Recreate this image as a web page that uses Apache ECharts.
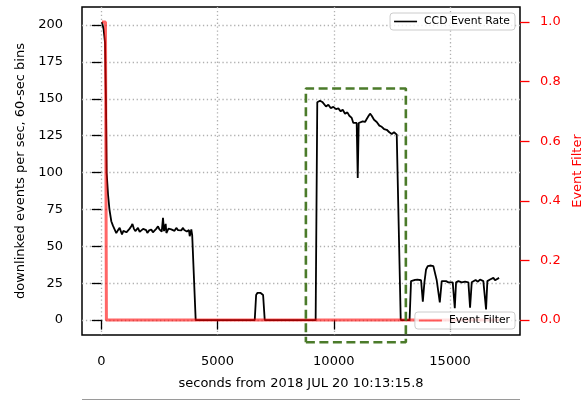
<!DOCTYPE html>
<html>
<head>
<meta charset="utf-8">
<script src="https://cdn.jsdelivr.net/npm/echarts@6/dist/echarts.min.js"></script>
<style>
  html, body { margin: 0; padding: 0; background: #fff; }
  #chart { width: 586px; height: 400px; }
</style>
</head>
<body>
<div id="chart"></div>
<script>
// CCD event rate, 60-sec bins (seconds from start, events per sec)
const rateTime = [
  30, 100, 160, 200, 230, 290, 350, 430, 500, 576, 645, 720, 790, 890, 950, 1006, 1080, 1148,
  1220, 1290, 1340, 1400, 1463, 1520, 1578, 1650, 1720, 1800, 1867, 1930, 1980, 2060, 2150,
  2220, 2297, 2370, 2440, 2500, 2555, 2600, 2654, 2697, 2730, 2770, 2800, 2840, 2890, 2942,
  3010, 3085, 3150, 3227, 3300, 3370, 3440, 3515, 3570, 3614, 3680, 3730, 3770, 3803, 3840,
  3872, 3910, 3950, 4060,
  6600, 6660, 6720, 6780, 6840, 6900, 6960, 7030,
  9220, 9290, 9408, 9523, 9580, 9666, 9766, 9867, 9981, 10097, 10196, 10298, 10385, 10484,
  10583, 10669, 10772, 10841, 10914, 10985, 11030, 11072, 11130, 11245, 11344, 11416, 11500,
  11560, 11632, 11732, 11847, 11960, 12063, 12162, 12277, 12390, 12493, 12592, 12708, 12750,
  12880,
  13260, 13323, 13395, 13496, 13596, 13682, 13754, 13830, 13898, 13969, 14041, 14113, 14184,
  14284, 14356, 14428, 14499, 14560, 14643, 14714, 14829, 14929, 15001, 15116, 15205, 15260,
  15360, 15503, 15647, 15790, 15862, 15933, 16000, 16100, 16200, 16290, 16433, 16550, 16606,
  16722, 16794, 16864, 16937, 17009, 17110
];
const rateValue = [
  202, 197, 188, 150, 100, 85, 75, 67, 64, 63.6, 59, 61, 62.5, 58, 60.5, 61.4, 59.5, 60.3,
  62, 63.6, 65.2, 62, 60.3, 61.5, 62.5, 59.8, 60.3, 61.8, 63, 61, 59, 60.8, 61.4,
  59.5, 60.3, 62, 63.6, 61.5, 62.5, 60, 69.3, 60.3, 63, 65.2, 59, 60.3, 62, 63,
  61.5, 61.4, 60.5, 62.5, 61, 61.4, 60.8, 62.5, 61, 61.4, 60, 59, 61, 56.9, 59,
  61.4, 57.5, 58, 0,
  0, 17, 18.5, 19, 18.5, 18, 17, 0,
  0, 147.6, 148.7, 147.6, 148, 144.8, 146, 143.7, 144.5, 143, 143.5, 141.5, 142.6, 139.9,
  140.8, 138.5, 137, 133.6, 134, 133.6, 96.4, 133.6, 133.6, 134.7, 134.3, 136.3, 138.5,
  139.9, 138.5, 135.8, 134.3, 131.8, 131, 129.5, 129, 127.3, 126.2, 127.3, 125.7, 125,
  0,
  0, 26.4, 25.6, 27.2, 27.4, 26.4, 27, 12.5, 25.6, 34.3, 36.6, 37.7, 37,
  36.6, 35.4, 27, 26.4, 12, 26.4, 25.6, 26.4, 25.6, 26, 25.6, 8, 25.6,
  26.4, 25.6, 26, 25.6, 8.4, 25.6, 26.4, 27.2, 26, 27.5, 26.4, 7.2, 26.4,
  27.5, 26.4, 28.6, 27, 27.9, 28.6
];

// Event filter flag (0 or 1)
const filterTime = [30, 180, 220, 17110];
const filterValue = [1, 1, 0, 0];

// Highlighted interval (dashed box), seconds / events per sec
const boxTime = [8800, 13100, 13100, 8800, 8800];
const boxLevel = [-15, -15, 157, 157, -15];

// Tick positions
const timeTicks = [0, 5000, 10000, 15000];
const rateTicks = [0, 25, 50, 75, 100, 125, 150, 175, 200];
const filterTicks = [0, 0.2, 0.4, 0.6, 0.8, 1.0];

const FONT = 'DejaVu Sans';
const pairs = (xs, ys) => xs.map((x, i) => [x, ys[i]]);

const legendBase = {
  right: 71,
  orient: 'horizontal',
  icon: 'rect',
  itemWidth: 23,
  padding: [3, 5, 3, 4],
  backgroundColor: 'rgba(255,255,255,0.8)',
  borderColor: '#cccccc', borderWidth: 1, borderRadius: 3,
  textStyle: { fontFamily: FONT, fontSize: 10.8, color: '#000', padding: [0, 0, 0, 2] }
};

const chart = echarts.init(document.getElementById('chart'), null, { renderer: 'canvas' });

chart.setOption({
  animation: false,
  backgroundColor: '#fff',
  textStyle: { fontFamily: FONT },
  grid: {
    left: 82, right: 66, top: 7, bottom: 65,
    outerBoundsMode: 'none',
    containLabel: false,
    show: true, borderColor: '#000', borderWidth: 1.5, backgroundColor: 'transparent'
  },
  legend: [
    Object.assign({}, legendBase, { data: ['CCD Event Rate'], top: 13, itemHeight: 1.6 }),
    Object.assign({}, legendBase, { data: ['Event Filter'], top: 312, itemHeight: 2 })
  ],
  xAxis: {
    type: 'value',
    min: -830, max: 18010,
    name: 'seconds from 2018 JUL 20 10:13:15.8',
    nameLocation: 'middle', nameGap: 42,
    nameTextStyle: { fontFamily: FONT, fontSize: 13, color: '#000' },
    axisLine: { show: false },
    axisTick: { show: true, length: 9.5, customValues: timeTicks, lineStyle: { color: '#000', width: 1.3 } },
    axisLabel: {
      customValues: timeTicks, margin: 20, fontFamily: FONT, fontSize: 13, color: '#000',
      formatter: v => String(v)
    },
    splitLine: { show: true, lineStyle: { color: '#b0b0b0', width: 1.3, type: [1.3, 2.6] } }
  },
  yAxis: [
    {
      type: 'value',
      min: -10.1, max: 212.2,
      name: 'downlinked events per sec, 60-sec bins',
      nameLocation: 'middle', nameGap: 55, nameRotate: 90,
      nameTextStyle: { fontFamily: FONT, fontSize: 13, color: '#000' },
      axisLine: { show: false },
      axisTick: { show: true, length: 9.5, customValues: rateTicks, lineStyle: { color: '#000', width: 1.3 } },
      axisLabel: { customValues: rateTicks, margin: 19, fontFamily: FONT, fontSize: 13, color: '#000' },
      splitLine: { show: true, lineStyle: { color: '#b0b0b0', width: 1.3, type: [1.3, 2.6] } }
    },
    {
      type: 'value',
      position: 'right',
      min: -0.05, max: 1.05,
      name: 'Event Filter',
      nameLocation: 'middle', nameGap: 51, nameRotate: 90,
      nameTextStyle: { fontFamily: FONT, fontSize: 13, color: '#ff0000' },
      axisLine: { show: false },
      axisTick: { show: true, length: 9.5, customValues: filterTicks, lineStyle: { color: '#ff0000', width: 1.3 } },
      axisLabel: {
        customValues: filterTicks, margin: 20, fontFamily: FONT, fontSize: 13, color: '#ff0000',
        formatter: v => Number(v).toFixed(1)
      },
      splitLine: { show: false }
    }
  ],
  series: [
    {
      name: 'CCD Event Rate',
      type: 'line',
      yAxisIndex: 0,
      data: pairs(rateTime, rateValue),
      symbol: 'none',
      color: '#000',
      lineStyle: { color: '#000', width: 1.8 },
      z: 2
    },
    {
      name: 'Event Filter',
      type: 'line',
      yAxisIndex: 1,
      data: pairs(filterTime, filterValue),
      symbol: 'none',
      color: 'rgba(255,0,0,0.6)',
      lineStyle: { color: 'rgba(255,0,0,0.6)', width: 3 },
      z: 3
    },
    {
      name: 'interval',
      type: 'line',
      yAxisIndex: 0,
      data: pairs(boxTime, boxLevel),
      symbol: 'none',
      clip: false,
      silent: true,
      lineStyle: { color: '#4b7b2a', width: 2.6, type: [9, 4.5] },
      z: 4
    }
  ],
  graphic: [
    {
      type: 'line',
      shape: { x1: 82, y1: 399.5, x2: 520, y2: 399.5 },
      style: { stroke: '#9a9a9a', lineWidth: 1 },
      silent: true
    }
  ]
});
</script>
</body>
</html>
